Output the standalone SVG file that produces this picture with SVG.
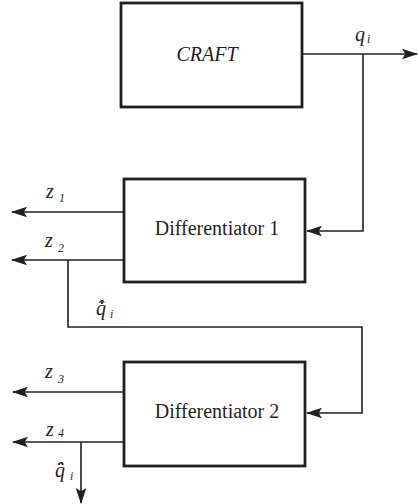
<svg xmlns="http://www.w3.org/2000/svg" width="418" height="504" viewBox="0 0 418 504">
<style>
.box{fill:#fff;stroke:#231f20;stroke-width:2.8}
.ln{fill:none;stroke:#231f20;stroke-width:1.6}
.t{font-family:"Liberation Serif","Times New Roman","DejaVu Serif",serif;fill:#231f20}
.it{font-style:italic}
.lbl{font-size:20px;text-anchor:middle}
.v{font-size:20px;font-style:italic}
.sub{font-size:12px;font-style:italic}
</style>
<defs>
<marker id="ah" markerUnits="userSpaceOnUse" markerWidth="16" markerHeight="12" viewBox="0 0 15 10" refX="14" refY="5" orient="auto">
<path d="M0,0 L15,5 L0,10 L3,5 z" fill="#231f20"/>
</marker>
</defs>
<rect width="418" height="504" fill="#fff"/>
<g id="connectors">
<path class="ln" d="M302,54 H417" marker-end="url(#ah)"/>
<path class="ln" d="M363,54 V231 H307" marker-end="url(#ah)"/>
<path class="ln" d="M124,212 H12" marker-end="url(#ah)"/>
<path class="ln" d="M124,260 H12" marker-end="url(#ah)"/>
<path class="ln" d="M68,260 V327 H362 V413 H307" marker-end="url(#ah)"/>
<path class="ln" d="M124,392 H13" marker-end="url(#ah)"/>
<path class="ln" d="M124,442 H13" marker-end="url(#ah)"/>
<path class="ln" d="M81,442 V503" marker-end="url(#ah)"/>
</g>
<g id="craft">
<rect class="box" x="121" y="3" width="181" height="104"/>
<text class="t it lbl" x="207" y="61" font-size="19">CRAFT</text>
</g>
<g id="diff1">
<rect class="box" x="124" y="179" width="181" height="103"/>
<text class="t lbl" x="217" y="235">Differentiator 1</text>
</g>
<g id="diff2">
<rect class="box" x="124" y="362" width="181" height="104"/>
<text class="t lbl" x="217" y="418">Differentiator 2</text>
</g>
<g id="labels">
<text class="t v" x="355" y="41">q<tspan class="sub" x="367" y="43" font-size="11">i</tspan></text>
<text class="t v" x="46" y="198">z<tspan class="sub" x="59" y="202">1</tspan></text>
<text class="t v" x="45" y="247">z<tspan class="sub" x="58" y="252">2</tspan></text>
<text class="t v" x="45" y="378">z<tspan class="sub" x="58" y="383">3</tspan></text>
<text class="t v" x="46" y="436">z<tspan class="sub" x="58" y="437">4</tspan></text>
<text class="t v" x="96" y="315">q̇̂<tspan class="sub" x="110" y="318" font-size="11">i</tspan></text>
<text class="t v" x="55" y="477">q̈̂<tspan class="sub" x="70" y="480" font-size="11">i</tspan></text>
</g>
</svg>
